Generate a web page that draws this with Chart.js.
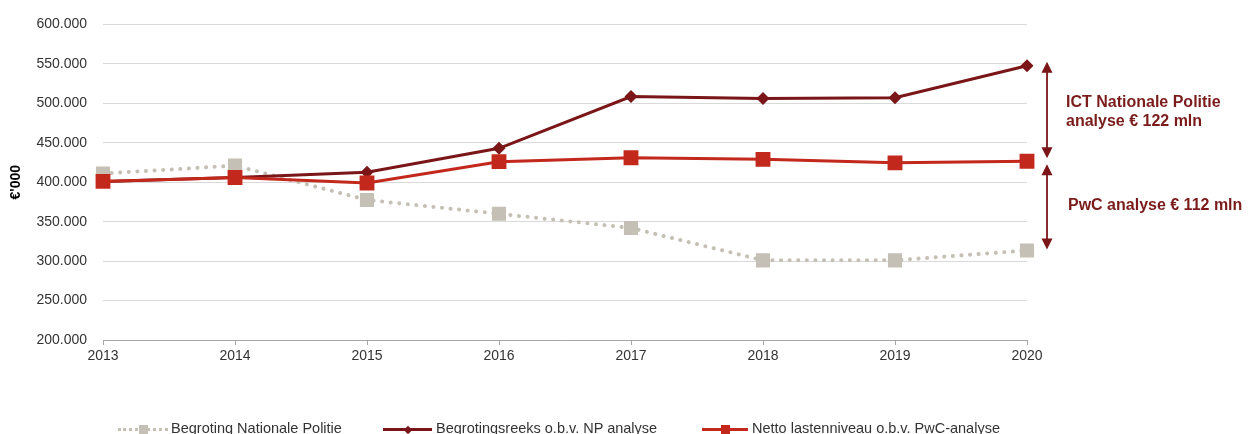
<!DOCTYPE html>
<html>
<head>
<meta charset="utf-8">
<script src="https://cdn.jsdelivr.net/npm/chart.js@4/dist/chart.umd.min.js"></script>
<style>
  html, body { margin: 0; padding: 0; background: #fff; }
  #wrap { position: relative; width: 1248px; height: 434px; overflow: hidden; font-family: Arial, "Liberation Sans", sans-serif; }
  #legenda { position: absolute; left: 0; top: 0; width: 1248px; height: 434px; pointer-events: none; }
  .lg-tekst { position: absolute; top: 420px; font-size: 14.5px; color: #333; white-space: nowrap; }
  .lg-lijn { position: absolute; top: 428px; height: 0; }
  .lg-mark { position: absolute; }
</style>
</head>
<body>
<div id="wrap">
  <canvas id="grafiek" width="1248" height="434"></canvas>
  <div id="legenda"></div>
</div>
<script>
// jaren op de x-as
const jaren = ['2013', '2014', '2015', '2016', '2017', '2018', '2019', '2020'];

// reeksen in € '000
const begrotingNP = [411000, 421000, 377500, 360000, 342000, 301000, 301000, 313500];
const begrotingsreeksNP = [401000, 406000, 412500, 443000, 508500, 506000, 507000, 547500];
const nettoPwC = [401000, 406000, 399000, 426000, 431000, 429000, 424500, 426500];

const reeksNamen = ['Begroting Nationale Politie', 'Begrotingsreeks o.b.v. NP analyse', 'Netto lastenniveau o.b.v. PwC-analyse'];

// labels van de y-as
const yMin = 200000;
const yMax = 600000;
const yStap = 50000;

// teksten bij de pijlen
const annotatieBoven = ['ICT Nationale Politie', 'analyse € 122 mln'];
const annotatieOnder = ['PwC analyse € 112 mln'];

const kleurGrijs = '#c5c0b5';
const kleurDonkerrood = '#7a1518';
const kleurRood = '#c2281c';
const kleurTekst = '#7b1c1c';

// getal met punt als duizendtal-scheiding
function formatGetal(v) {
    return String(Math.round(v)).replace(/\B(?=(\d{3})+(?!\d))/g, '.');
}

// pijl met twee punten tekenen
function tekenPijl(ctx, x, y1, y2) {
    const kop = 11;
    const breed = 5.5;
    ctx.save();
    ctx.strokeStyle = kleurDonkerrood;
    ctx.fillStyle = kleurDonkerrood;
    ctx.lineWidth = 1.8;
    ctx.beginPath();
    ctx.moveTo(x, y1 + kop - 1);
    ctx.lineTo(x, y2 - kop + 1);
    ctx.stroke();
    ctx.beginPath();
    ctx.moveTo(x, y1);
    ctx.lineTo(x - breed, y1 + kop);
    ctx.lineTo(x + breed, y1 + kop);
    ctx.closePath();
    ctx.fill();
    ctx.beginPath();
    ctx.moveTo(x, y2);
    ctx.lineTo(x - breed, y2 - kop);
    ctx.lineTo(x + breed, y2 - kop);
    ctx.closePath();
    ctx.fill();
    ctx.restore();
}

// plugin voor de pijlen en teksten rechts van de grafiek
const annotatiePlugin = {
    id: 'annotaties',
    afterDatasetsDraw(chart) {
        const ctx = chart.ctx;
        const y = chart.scales.y;
        const x = chart.chartArea.right + 20;
        const laatste = jaren.length - 1;

        const top = y.getPixelForValue(begrotingsreeksNP[laatste]) - 4;
        const midden = y.getPixelForValue(nettoPwC[laatste]);
        const onder = y.getPixelForValue(begrotingNP[laatste]);

        tekenPijl(ctx, x, top, midden - 3);
        tekenPijl(ctx, x, midden + 3, onder - 1);

        ctx.save();
        ctx.fillStyle = kleurTekst;
        ctx.font = 'bold 16px Arial, "Liberation Sans", sans-serif';
        ctx.textBaseline = 'middle';
        ctx.textAlign = 'left';
        const bovenMidden = (top + midden) / 2;
        annotatieBoven.forEach((t, i) => {
            ctx.fillText(t, x + 19, bovenMidden - 9 + i * 19);
        });
        const onderMidden = (midden + onder) / 2;
        annotatieOnder.forEach((t, i) => {
            ctx.fillText(t, x + 21, onderMidden + i * 19);
        });
        ctx.restore();
    }
};

const ctx = document.getElementById('grafiek').getContext('2d');
const grafiek = new Chart(ctx, {
    type: 'line',
    data: {
        labels: jaren,
        datasets: [
            {
                label: reeksNamen[0],
                data: begrotingNP,
                borderColor: kleurGrijs,
                backgroundColor: kleurGrijs,
                borderWidth: 4,
                borderDash: [0.1, 8.5],
                borderCapStyle: 'round',
                pointStyle: 'rect',
                pointRadius: 10,
                pointBorderWidth: 0,
                pointBackgroundColor: kleurGrijs,
                tension: 0,
                order: 2
            },
            {
                label: reeksNamen[1],
                data: begrotingsreeksNP,
                borderColor: kleurDonkerrood,
                backgroundColor: kleurDonkerrood,
                borderWidth: 3,
                pointStyle: 'rectRot',
                pointRadius: 6.5,
                pointBorderWidth: 0,
                pointBackgroundColor: kleurDonkerrood,
                tension: 0,
                order: 1
            },
            {
                label: reeksNamen[2],
                data: nettoPwC,
                borderColor: kleurRood,
                backgroundColor: kleurRood,
                borderWidth: 3,
                pointStyle: 'rect',
                pointRadius: 10.5,
                pointBorderWidth: 0,
                pointBackgroundColor: kleurRood,
                tension: 0,
                order: 0
            }
        ]
    },
    options: {
        responsive: false,
        animation: false,
        layout: {
            padding: { left: 0, right: 221, top: 20, bottom: 70 }
        },
        plugins: {
            legend: { display: false },
            tooltip: { enabled: false }
        },
        scales: {
            x: {
                offset: false,
                grid: {
                    display: true,
                    drawOnChartArea: false,
                    drawTicks: true,
                    tickLength: 5,
                    color: '#a6a6a6'
                },
                border: { color: '#a6a6a6', width: 1 },
                ticks: {
                    color: '#333',
                    padding: 3,
                    maxRotation: 0,
                    font: { family: 'Arial, "Liberation Sans", sans-serif', size: 14 }
                },
                afterFit(scale) { scale.height = 24; }
            },
            y: {
                min: yMin,
                max: yMax,
                grid: {
                    color: '#d9d9d9',
                    drawTicks: false
                },
                border: { display: false },
                ticks: {
                    stepSize: yStap,
                    color: '#333',
                    padding: 16,
                    font: { family: 'Arial, "Liberation Sans", sans-serif', size: 14 },
                    callback: v => formatGetal(v)
                },
                title: {
                    display: true,
                    text: "€'000",
                    color: '#000',
                    padding: { top: 8, bottom: 0 },
                    font: { family: 'Arial, "Liberation Sans", sans-serif', size: 14, weight: 'bold' }
                },
                afterFit(scale) { scale.width = 103; }
            }
        }
    },
    plugins: [annotatiePlugin]
});

// eigen legenda onderaan, zoals in het origineel
const legenda = document.getElementById('legenda');
const legendaLinks = [118, 383, 702];
const legendaLijnBreedte = [50, 49, 46];
const legendaTekstLinks = [171, 436, 752];
const legendaStijl = [
    { kleur: kleurGrijs, lijn: 'dotted', dikte: 3, mark: 'vierkant', maat: 9 },
    { kleur: kleurDonkerrood, lijn: 'solid', dikte: 3, mark: 'ruit', maat: 6 },
    { kleur: kleurRood, lijn: 'solid', dikte: 3, mark: 'vierkant', maat: 9 }
];

reeksNamen.forEach((naam, i) => {
    const s = legendaStijl[i];
    const lijn = document.createElement('div');
    lijn.className = 'lg-lijn';
    lijn.style.left = legendaLinks[i] + 'px';
    lijn.style.width = legendaLijnBreedte[i] + 'px';
    lijn.style.borderTop = s.dikte + 'px ' + s.lijn + ' ' + s.kleur;
    legenda.appendChild(lijn);

    const mark = document.createElement('div');
    mark.className = 'lg-mark';
    const midden = legendaLinks[i] + legendaLijnBreedte[i] / 2;
    mark.style.width = s.maat + 'px';
    mark.style.height = s.maat + 'px';
    mark.style.left = (midden - s.maat / 2) + 'px';
    mark.style.top = (428 + s.dikte / 2 - s.maat / 2) + 'px';
    mark.style.background = s.kleur;
    if (s.mark === 'ruit') mark.style.transform = 'rotate(45deg)';
    legenda.appendChild(mark);

    const tekst = document.createElement('div');
    tekst.className = 'lg-tekst';
    tekst.style.left = legendaTekstLinks[i] + 'px';
    tekst.textContent = naam;
    legenda.appendChild(tekst);
});
</script>
</body>
</html>
